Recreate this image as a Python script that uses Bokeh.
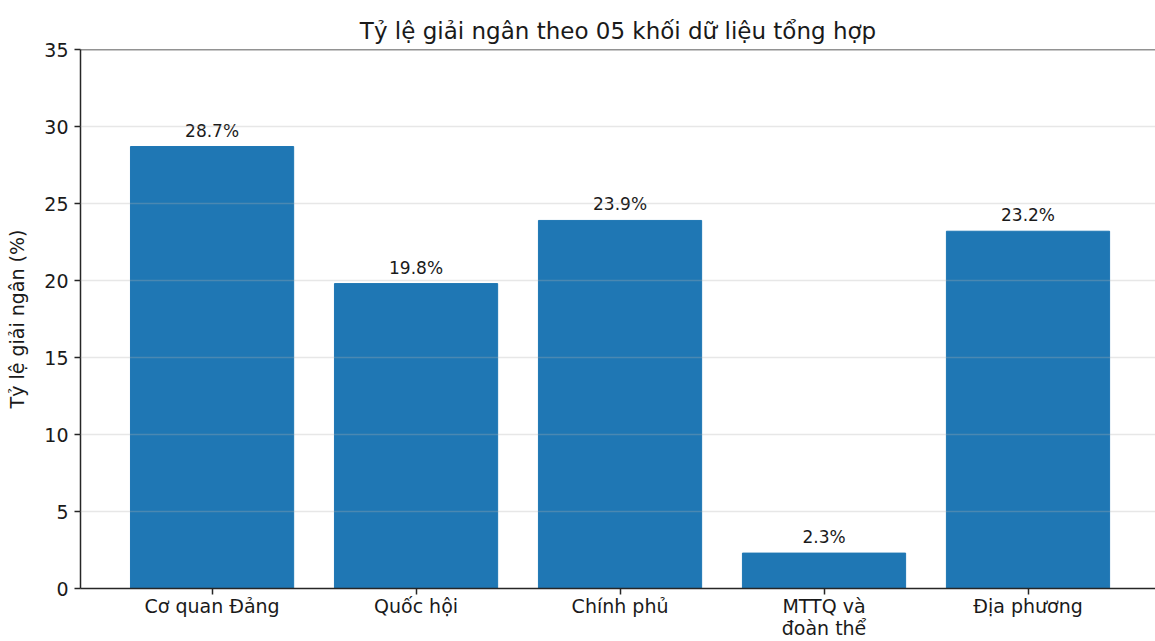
from bokeh.plotting import figure
from bokeh.models import ColumnDataSource, FixedTicker, Range1d, Span, LabelSet
from bokeh.core.properties import value
from bokeh.embed import file_html
from bokeh.resources import INLINE

categories = ["Cơ quan Đảng", "Quốc hội", "Chính phủ", "MTTQ và\nđoàn thể", "Địa phương"]
values = [28.7, 19.8, 23.9, 2.3, 23.2]
labels = [f"{v:.1f}%" for v in values]
yticks = [0, 5, 10, 15, 20, 25, 30, 35]

xs = list(range(len(categories)))
src = ColumnDataSource(dict(x=xs, top=values, label=labels))

FONT = "DejaVu Sans"
TXT = "#1a1a1a"
SPINE = "#262626"

p = figure(width=1155, height=641, output_backend="svg", toolbar_location=None,
           x_range=Range1d(-0.645, 4.625), y_range=Range1d(0, 35),
           min_border_left=80, min_border_right=0, min_border_top=49, min_border_bottom=53,
           title="Tỷ lệ giải ngân theo 05 khối dữ liệu tổng hợp")
p.title.text_font = FONT
p.title.text_font_size = "23px"
p.title.text_font_style = "normal"
p.title.text_color = TXT
p.title.align = "center"
p.title.standoff = 12

p.vbar(x="x", top="top", width=0.8, bottom=0, source=src, color="#1f77b4")

p.add_layout(LabelSet(x="x", y="top", text="label", source=src, y_offset=6,
                      text_align="center", text_baseline="bottom",
                      text_font=value(FONT), text_font_size=value("17px"), text_color=TXT))

p.outline_line_color = None
p.add_layout(Span(location=35, dimension="width", line_color=SPINE, line_width=1.5))

p.xgrid.visible = False
p.ygrid.ticker = FixedTicker(ticks=yticks)
p.ygrid.grid_line_color = "#b0b0b0"
p.ygrid.grid_line_alpha = 0.3
p.ygrid.grid_line_width = 1.3
p.ygrid.level = "overlay"

p.xaxis.ticker = FixedTicker(ticks=xs)
p.xaxis.major_label_overrides = {i: c for i, c in zip(xs, categories)}
p.yaxis.ticker = FixedTicker(ticks=yticks)
p.yaxis.axis_label = "Tỷ lệ giải ngân (%)"

for ax in (p.xaxis[0], p.yaxis[0]):
    ax.axis_line_color = SPINE
    ax.axis_line_width = 1.5
    ax.major_tick_line_color = SPINE
    ax.major_tick_line_width = 1.5
    ax.major_tick_out = 6
    ax.major_tick_in = 0
    ax.minor_tick_line_color = None
    ax.major_label_text_font = FONT
    ax.major_label_text_font_size = "19px"
    ax.major_label_text_color = TXT
    ax.major_label_standoff = 6
    ax.axis_label_text_font = FONT
    ax.axis_label_text_font_size = "19px"
    ax.axis_label_text_font_style = "normal"
    ax.axis_label_text_color = TXT
    ax.axis_label_standoff = 13

p.xaxis.major_label_standoff = 0
p.xaxis.major_label_text_line_height = 1.0

open("out.html", "w").write(file_html(p, INLINE))
